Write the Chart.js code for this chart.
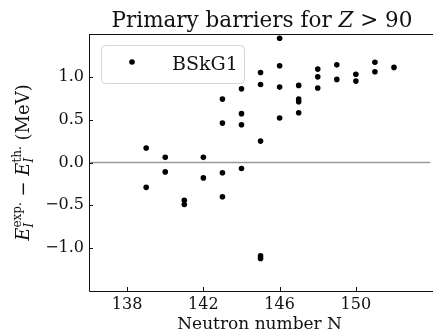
<!DOCTYPE html>
<html>
  <head>
    <meta charset="utf-8" />
    <title>Primary barriers for Z > 90</title>
    <script src="https://cdn.jsdelivr.net/npm/chart.js@4.4.0/dist/chart.umd.min.js"></script>
    <style>
      body { margin: 0; background: #fff; overflow: hidden; }
    </style>
  </head>
  <body>
    <canvas id="myChart" width="433" height="335"></canvas>
    <script>
      // neutron number of each barrier and E_exp - E_th (MeV)
      const neutrons = [
        139, 139,
        140, 140,
        141, 141,
        142, 142,
        143, 143, 143, 143,
        144, 144, 144, 144,
        145, 145, 145, 145, 145,
        146, 146, 146, 146,
        147, 147, 147, 147,
        148, 148, 148,
        149, 149,
        150, 150,
        151, 151,
        152
      ];
      const deltas = [
        0.17, -0.29,
        0.06, -0.11,
        -0.44, -0.49,
        0.06, -0.18,
        0.74, 0.46, -0.12, -0.40,
        0.86, 0.57, 0.44, -0.07,
        1.05, 0.91, 0.25, -1.09, -1.12,
        1.45, 1.13, 0.88, 0.52,
        0.90, 0.74, 0.71, 0.58,
        1.09, 1.00, 0.87,
        1.14, 0.97,
        1.03, 0.95,
        1.17, 1.06,
        1.11
      ];
      const xTicks = [138, 142, 146, 150];
      const yTicks = [-1.0, -0.5, 0.0, 0.5, 1.0];
      const seriesName = "BSkG1";

      const serif = "'DejaVu Serif', serif";
      const points = neutrons.map((n, i) => ({ x: n, y: deltas[i] }));

      // draws the frame, inward ticks, title, y label and legend box
      const decor = {
        id: "decor",
        afterDraw(chart) {
          const ctx = chart.ctx;
          const a = chart.chartArea;
          const xs = chart.scales.x, ys = chart.scales.y;
          ctx.save();
          ctx.strokeStyle = "#111";
          ctx.lineWidth = 1;
          ctx.beginPath();
          ctx.moveTo(a.left + 0.5, a.top + 0.5);
          ctx.lineTo(a.right + 5, a.top + 0.5);
          ctx.moveTo(a.left + 0.5, a.top);
          ctx.lineTo(a.left + 0.5, a.bottom + 0.5);
          ctx.lineTo(a.right + 5, a.bottom + 0.5);
          xTicks.forEach(v => {
            const px = Math.round(xs.getPixelForValue(v)) + 0.5;
            ctx.moveTo(px, a.bottom);
            ctx.lineTo(px, a.bottom - 4);
          });
          yTicks.forEach(v => {
            const py = Math.round(ys.getPixelForValue(v)) + 0.5;
            ctx.moveTo(a.left, py);
            ctx.lineTo(a.left + 4, py);
          });
          ctx.stroke();

          // title
          ctx.fillStyle = "#111";
          ctx.textBaseline = "alphabetic";
          const parts = [
            ["Primary barriers for ", "21.5px " + serif],
            ["Z", "italic 21.5px " + serif],
            [" > 90", "21.5px " + serif]
          ];
          let w = 0;
          parts.forEach(p => { ctx.font = p[1]; w += ctx.measureText(p[0]).width; });
          let x = (a.left + 435) / 2 - w / 2;
          parts.forEach(p => {
            ctx.font = p[1];
            ctx.fillText(p[0], x, 27);
            x += ctx.measureText(p[0]).width;
          });

          // y axis label, rotated
          ctx.save();
          ctx.translate(29, (a.top + a.bottom) / 2);
          ctx.rotate(-Math.PI / 2);
          const big = "18px " + serif, bigI = "italic 18px " + serif;
          const small = "12px " + serif, smallI = "italic 12px " + serif;
          // [text, font, dy, advance]
          const seg = [];
          const addE = (sup) => {
            seg.push(["E", bigI, 0, true]);
            seg.push(["I", smallI, 4, false]);
            seg.push([sup, small, -8, true]);
          };
          addE("exp.");
          seg.push([" \u2212 ", big, 0, true]);
          addE("th.");
          seg.push([" (MeV)", big, 0, true]);
          let total = 0;
          seg.forEach(s => { ctx.font = s[1]; if (s[3]) total += ctx.measureText(s[0]).width; });
          let cx = -total / 2;
          seg.forEach(s => {
            ctx.font = s[1];
            ctx.fillText(s[0], cx, s[2]);
            if (s[3]) cx += ctx.measureText(s[0]).width;
          });
          ctx.restore();

          // legend
          const bx = 101, by = 45, bw = 143, bh = 38, r = 4;
          ctx.fillStyle = "rgba(255,255,255,0.8)";
          ctx.strokeStyle = "#d5d5d5";
          ctx.beginPath();
          ctx.roundRect(bx + 0.5, by + 0.5, bw, bh, r);
          ctx.fill();
          ctx.stroke();
          ctx.fillStyle = "#000";
          ctx.beginPath();
          ctx.arc(132, 62, 2.8, 0, Math.PI * 2);
          ctx.fill();
          ctx.fillStyle = "#111";
          ctx.font = "19px " + serif;
          ctx.textBaseline = "alphabetic";
          ctx.fillText(seriesName, 172, 70);
          ctx.restore();
        }
      };

      new Chart(document.getElementById("myChart"), {
        type: "scatter",
        data: {
          datasets: [
            {
              label: seriesName,
              data: points,
              pointRadius: 2.8,
              pointHoverRadius: 2.8,
              backgroundColor: "#000",
              borderWidth: 0,
              order: 1
            },
            {
              type: "line",
              label: "zero",
              data: [{ x: 136, y: 0 }, { x: 154, y: 0 }],
              borderColor: "#9a9a9a",
              borderWidth: 1.3,
              pointRadius: 0,
              order: 2
            }
          ]
        },
        options: {
          responsive: false,
          animation: false,
          layout: { padding: { top: 34, right: 0, left: 0, bottom: 0 } },
          plugins: {
            legend: { display: false },
            tooltip: { enabled: false },
            title: { display: false }
          },
          scales: {
            x: {
              type: "linear",
              min: 136,
              max: 153.9,
              afterBuildTicks: s => { s.ticks = xTicks.map(v => ({ value: v })); },
              afterFit: s => { s.height = 44; },
              grid: { display: false, drawTicks: false },
              border: { display: false },
              ticks: {
                color: "#111",
                font: { family: serif, size: 16 },
                padding: 4,
                maxRotation: 0
              },
              title: {
                display: true,
                text: "Neutron number N",
                color: "#111",
                font: { family: serif, size: 17 },
                padding: { top: -4, bottom: 0 }
              }
            },
            y: {
              min: -1.5,
              max: 1.5,
              afterBuildTicks: s => { s.ticks = yTicks.map(v => ({ value: v })); },
              afterFit: s => { s.width = 89; },
              grid: { display: false, drawTicks: false },
              border: { display: false },
              ticks: {
                color: "#111",
                font: { family: serif, size: 16 },
                padding: 5,
                callback: v => (v < 0 ? "\u2212" : "") + Math.abs(v).toFixed(1)
              }
            }
          }
        },
        plugins: [decor]
      });
    </script>
  </body>
</html>
